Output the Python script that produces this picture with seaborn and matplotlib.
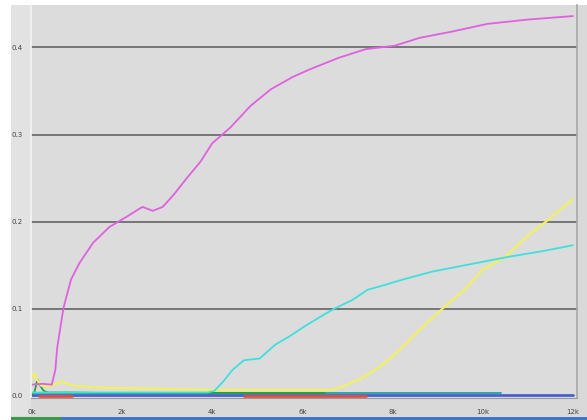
import matplotlib.pyplot as plt
import numpy as np
import pandas as pd
import seaborn as sns
from matplotlib.patches import Rectangle

# %% data

magenta_x = [0, 240, 440, 520, 560, 700, 870, 1060, 1360, 1720, 2080, 2450, 2680, 2900,
             3130, 3420, 3740, 4000, 4400, 4850, 5300, 5780, 6170, 6800, 7400, 8050,
             8600, 9300, 10100, 11000, 12000]
magenta_y = [0.013, 0.014, 0.013, 0.03, 0.055, 0.101, 0.134, 0.153, 0.176, 0.194, 0.205,
             0.217, 0.2125, 0.217, 0.23, 0.249, 0.269, 0.29, 0.308, 0.333, 0.352, 0.366,
             0.375, 0.388, 0.398, 0.402, 0.411, 0.418, 0.427, 0.432, 0.436]

cyan_x = [0, 3900, 4050, 4250, 4450, 4700, 5050, 5400, 5700, 6050, 6400, 6700, 7100,
          7450, 7800, 8250, 8900, 9900, 10600, 11300, 12000]
cyan_y = [0.004, 0.004, 0.006, 0.017, 0.03, 0.041, 0.043, 0.059, 0.068, 0.08, 0.091,
          0.1, 0.11, 0.122, 0.127, 0.134, 0.143, 0.153, 0.16, 0.166, 0.173]

yellow_x = [0, 50, 120, 200, 300, 450, 650, 900, 1300, 2000, 3000, 4000, 5000, 6000,
            6650, 6900, 7300, 7700, 8100, 8600, 9100, 9600, 10000, 10500, 11000, 11400,
            12000]
yellow_y = [0.02, 0.026, 0.018, 0.012, 0.011, 0.012, 0.0165, 0.012, 0.01, 0.009, 0.008,
            0.007, 0.007, 0.007, 0.007, 0.011, 0.02, 0.033, 0.05, 0.076, 0.1, 0.122,
            0.145, 0.16, 0.184, 0.2, 0.226]

green_x = [0, 60, 120, 180, 260, 350, 500, 800, 1500, 3000, 5000, 6500]
green_y = [0.002, 0.005, 0.019, 0.012, 0.006, 0.004, 0.004, 0.004, 0.0035, 0.0035, 0.0035, 0.0035]

teal_x = [0, 10400]
teal_y = [0.003, 0.003]

blue_x = [0, 12000]
blue_y = [0.0012, 0.0012]

red_x = [[150, 900], [4700, 7400]]
red_y = [0.0002, 0.0002]

x_ticks = [0, 2000, 4000, 6000, 8000, 10000, 12000]
x_labels = ["0k", "2k", "4k", "6k", "8k", "10k", "12k"]
y_ticks = [0.0, 0.1, 0.2, 0.3, 0.4]
y_labels = ["0.0", "0.1", "0.2", "0.3", "0.4"]

# %% plot

sns.set_style("white")
fig = plt.figure(figsize=(5.87, 4.2), dpi=100, facecolor="#d9d9d9")
# window chrome around the panel, kept behind the axes
chrome = [
    ((0, 0.988), 1, 0.012, "white"),
    ((0, 0), 11 / 587, 1, "white"),
    ((11 / 587, 0.01), 20 / 587, 0.978, "#e2e2e2"),
    ((11 / 587, 0), 1, 0.008, "#3b78c8"),
    ((11 / 587, 0), 50 / 587, 0.008, "#3a9a4a"),
]
for xy, w, h, c in chrome:
    fig.patches.append(Rectangle(xy, w, h, transform=fig.transFigure,
                                 facecolor=c, edgecolor="none", zorder=-5))

ax = fig.add_axes([31 / 587, 1 - 398 / 420, 546 / 587, 393 / 420])
ax.set_facecolor("#dcdcdc")

for yv in y_ticks[1:]:
    ax.axhline(yv, color="#6e6e6e", lw=1.3, zorder=1)

sns.lineplot(x=blue_x, y=blue_y, color="#4a5fd0", lw=2, ax=ax)
for seg in red_x:
    sns.lineplot(x=seg, y=red_y, color="#e0503c", lw=2, ax=ax)
sns.lineplot(x=teal_x, y=teal_y, color="#2aa8a8", lw=1.4, ax=ax)
sns.lineplot(x=green_x, y=green_y, color="#22a040", lw=1.3, ax=ax)
sns.lineplot(x=yellow_x, y=yellow_y, color="#f2f060", lw=1.6, ax=ax)
sns.lineplot(x=cyan_x, y=cyan_y, color="#3fe0dc", lw=1.3, ax=ax)
sns.lineplot(x=magenta_x, y=magenta_y, color="#e060e0", lw=1.3, ax=ax)

ax.set_xlim(-20, 12090)
ax.set_ylim(-0.0023, 0.4487)
ax.set_xticks(x_ticks)
ax.set_xticklabels(x_labels)
ax.set_yticks(y_ticks)
ax.set_yticklabels(y_labels)
ax.tick_params(axis="x", direction="out", length=6, width=0.8, color="#888888",
               labelsize=5, labelcolor="#444444", pad=2)
ax.tick_params(axis="y", length=0, labelsize=5, labelcolor="#444444", pad=6)
ax.spines["top"].set_visible(False)
ax.spines["left"].set_color("#f4f4f4")
ax.spines["left"].set_linewidth(1.2)
ax.spines["bottom"].set_color("#9a9a9a")
ax.spines["right"].set_color("#a8a8a8")
ax.spines["right"].set_linewidth(1.2)
ax.set_xlabel("")
ax.set_ylabel("")

fig.savefig("out.png", dpi=100, facecolor=fig.get_facecolor())
